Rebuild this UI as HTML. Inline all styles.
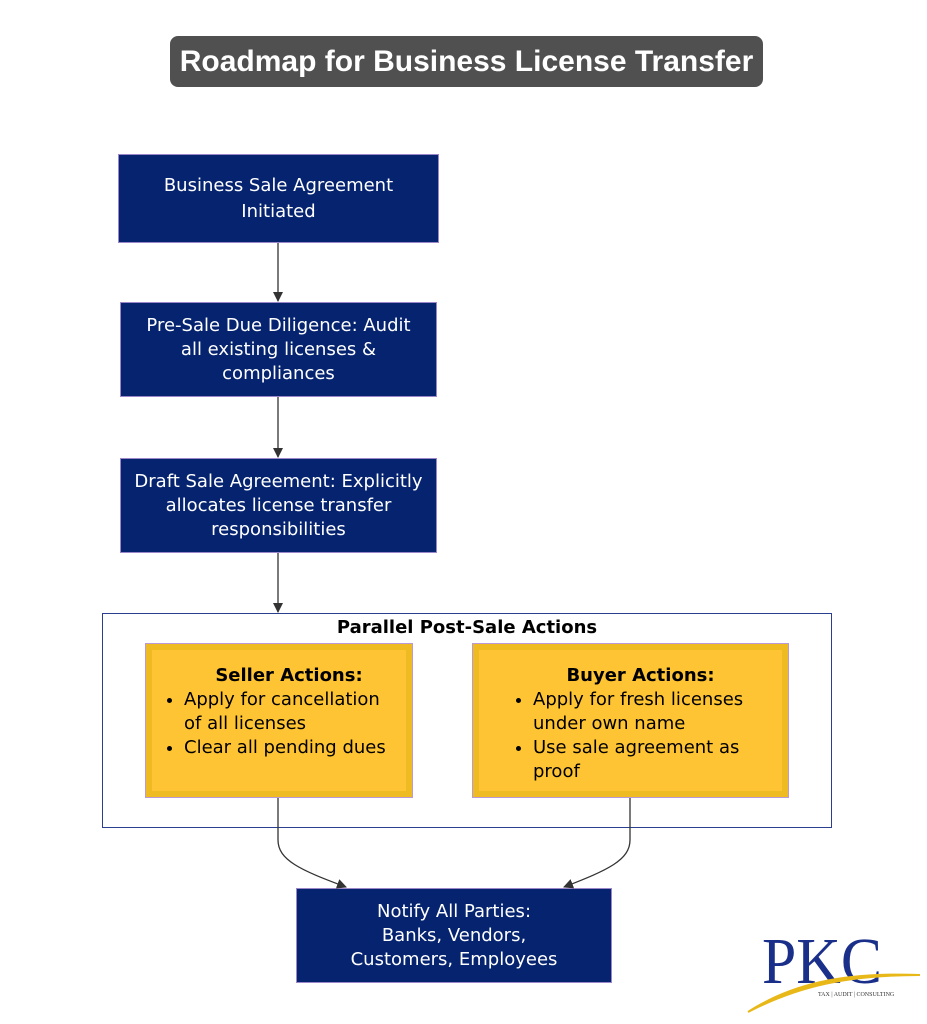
<!DOCTYPE html>
<html><head><style>
body{margin:0;width:927px;height:1024px;background:#fff;position:relative;font-family:"DejaVu Sans",sans-serif;overflow:hidden}
.a{position:absolute;box-sizing:border-box}
.n{background:#05236f;border:1px solid #9a86c8;color:#fff;font-size:18px;line-height:24px;display:flex;align-items:center;justify-content:center;text-align:center}
.y{background:#fec433;border:1px solid #b99ad6;box-shadow:inset 0 0 0 6px #eebc22;color:#000;font-size:18px;line-height:24px;padding:20px 0 0 20px}
.y b{display:block;text-align:center}
.y ul{margin:0;padding:0 0 0 18px}
</style></head><body>
<div class="a" style="left:170px;top:36px;width:593px;height:51px;background:#505050;border-radius:8px;color:#fff;font:bold 30px 'Liberation Sans',sans-serif;display:flex;align-items:center;justify-content:center;white-space:nowrap">Roadmap for Business License Transfer</div>
<div class="a n" style="left:118px;top:154px;width:321px;height:89px;line-height:26px">Business Sale Agreement<br>Initiated</div>
<div class="a n" style="left:120px;top:302px;width:317px;height:95px">Pre-Sale Due Diligence: Audit<br>all existing licenses &amp;<br>compliances</div>
<div class="a n" style="left:120px;top:458px;width:317px;height:95px">Draft Sale Agreement: Explicitly<br>allocates license transfer<br>responsibilities</div>
<div class="a" style="left:102px;top:613px;width:730px;height:215px;border:1.5px solid #2a3f8f"></div>
<div class="a" style="left:102px;top:617px;width:730px;text-align:center;font-weight:bold;font-size:18px">Parallel Post-Sale Actions</div>
<div class="a y" style="left:145px;top:643px;width:268px;height:155px"><b>Seller Actions:</b><ul><li style="white-space:nowrap">Apply for cancellation<br>of all licenses</li><li>Clear all pending dues</li></ul></div>
<div class="a y" style="left:472px;top:643px;width:317px;height:155px;padding-left:42px"><b style="margin-left:-22px">Buyer Actions:</b><ul><li style="white-space:nowrap">Apply for fresh licenses<br>under own name</li><li style="white-space:nowrap">Use sale agreement as<br>proof</li></ul></div>
<div class="a n" style="left:296px;top:888px;width:316px;height:95px">Notify All Parties:<br>Banks, Vendors,<br>Customers, Employees</div>
<svg class="a" style="left:0;top:0" width="927" height="1024">
<defs><marker id="m" markerWidth="10" markerHeight="10" refX="9" refY="5" orient="auto" markerUnits="userSpaceOnUse"><path d="M0,0L10,5L0,10z" fill="#333"/></marker></defs>
<g stroke="#333" stroke-width="1.3" fill="none" marker-end="url(#m)">
<path d="M278,243V301"/><path d="M278,397V457"/><path d="M278,553V612"/>
<path d="M278,798V840C278,860 300,870 346,887"/>
<path d="M630,798V840C630,860 608,870 564,887"/>
</g>
<text x="762" y="983" font-family="Liberation Serif,serif" font-size="66" fill="#1a2f8a" textLength="120" lengthAdjust="spacingAndGlyphs">PKC</text>
<path d="M748,1012C790,985 840,972 920,975C850,975 800,985 748,1012z" fill="#e8b818" stroke="#e8b818" stroke-width="2"/>
<text x="818" y="996" font-family="Liberation Serif,serif" font-size="6" fill="#333">TAX | AUDIT | CONSULTING</text>
</svg>
</body></html>
